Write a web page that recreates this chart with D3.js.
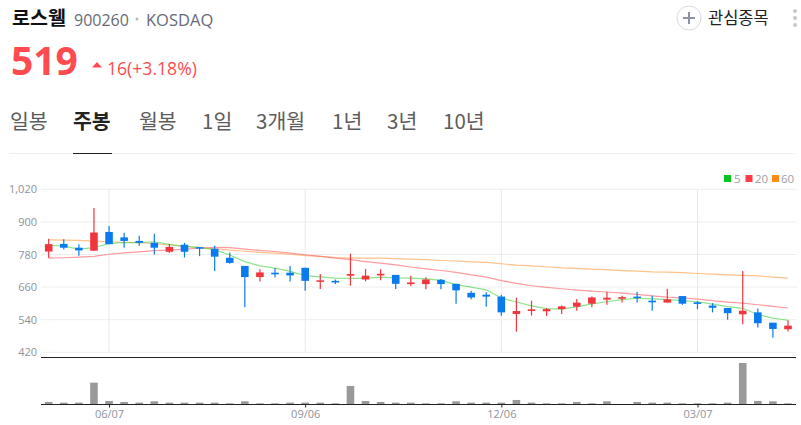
<!DOCTYPE html>
<html><head>
<meta charset="utf-8">
<script src="https://d3js.org/d3.v7.min.js"></script>
<style>
  html, body { margin: 0; padding: 0; background: #fff; overflow: hidden; }
  text { font-family: 'Noto Sans CJK KR', 'Noto Sans', sans-serif; }
  .num { font-family: 'Open Sans', 'Noto Sans', sans-serif; }
</style>
</head>
<body>
<script>
// weekly candles
const opens  = [791,819,805,794,863,843,830,823,790,816,807,801,768,738,697,713,713,731,680,683,702,688,703,705,671,671,687,672,639,632,625,561,572,571,579,588,599,614,617,625,610,603,627,604,592,583,560,567,529,505]
const closes = [818,805,795,861,818,830,823,805,808,790,802,772,749,697,714,707,703,683,685,677,708,702,709,672,677,688,671,648,622,625,567,572,578,579,589,603,622,621,623,620,604,615,599,598,584,564,573,527,506,518]
const highs  = [838,836,818,951,885,860,849,856,819,823,807,812,787,738,726,730,738,731,708,688,783,727,726,705,702,696,690,672,647,641,631,621,610,583,592,616,625,642,628,643,628,654,627,608,601,583,719,581,529,538]
const lows   = [767,798,775,794,818,805,812,780,786,769,774,719,746,586,681,696,681,647,653,671,665,681,685,653,664,652,652,599,615,588,555,496,555,554,561,573,586,595,603,603,573,603,595,579,567,540,523,511,474,497]
const ma5  = [814,811,800,805,821,824,824,827,817,810,805,798,778,754,738,730,718,702,698,693,692,692,697,694,693,690,685,669,660,650,620,605,591,581,579,587,598,606,614,619,617,614,610,606,597,588,582,559,546,538]
const ma20 = [767,768,770,773,781,786,790,794,796,800,803,806,805,800,795,791,785,779,773,767,761,754,748,742,734,727,721,714,705,697,684,674,665,659,654,649,645,642,638,633,628,623,620,616,610,605,601,595,589,583]
const ma60 = [834,833,832,829,827,825,824,820,815,810,806,801,796,792,788,785,781,776,773,769,767,767,767,765,763,761,758,756,753,751,746,741,738,735,731,729,726,724,721,719,716,715,713,710,708,705,703,701,697,693]
const volumes = [7,5,5,65,10,7,5,9,5,5,5,5,3,9,3,3,5,5,5,3,55,10,7,5,5,3,3,9,5,5,5,13,5,3,3,7,3,9,0,7,5,5,3,3,3,5,124,10,9,3]
const priceTicks = [420,540,660,780,900,1020]
const dateTickIdx = [4,17,30,43]
const dateTickLabels = ["06/07","09/06","12/06","03/07"]
const tabs = ["일봉","주봉","월봉","1일","3개월","1년","3년","10년"]
const tabX = [10,73,139,202,256,332,387,443]
const legendNames = ["5","20","60"]
const legendColors = ["#00c31e","#ff3b46","#ff8a14"]

const RED = "#f0353d", BLUE = "#0a7bef"
const left = 41, right = 797

const svg = d3.select("body").append("svg").attr("width", 801).attr("height", 425)

const x = d3.scaleLinear().domain([0, 49]).range([48.7, 788])
const y = d3.scaleLinear().domain([420, 1020]).range([352.3, 189.3])
const yVol = d3.scaleLinear().domain([0, 141]).range([404.3, 357.3])

// ---- header
svg.append("text").attr("x", 12).attr("y", 25).text("로스웰")
  .style("font-size", "19.5px").style("font-weight", "700").attr("fill", "#111")
svg.append("text").attr("x", 74).attr("y", 26).text("900260").attr("class", "num")
  .style("font-size", "16px").attr("fill", "#666b75")
svg.append("circle").attr("cx", 137).attr("cy", 19).attr("r", 1.5).attr("fill", "#b5b8bf")
svg.append("text").attr("x", 146).attr("y", 26).text("KOSDAQ").attr("class", "num")
  .style("font-size", "16.5px").attr("fill", "#666b75")
svg.append("text").attr("x", 11).attr("y", 75).text("519").attr("class", "num")
  .style("font-size", "39px").style("font-weight", "700").attr("fill", "#ff4b50")
svg.append("path").attr("d", "M92 67.5L97 62L102 67.5Z").attr("fill", "#ff4b50")
svg.append("text").attr("x", 107).attr("y", 75).text("16(+3.18%)").attr("class", "num")
  .style("font-size", "17.6px").attr("fill", "#ff4b50")

svg.append("circle").attr("cx", 689).attr("cy", 18).attr("r", 12).attr("fill", "#fff").attr("stroke", "#d8dbe2")
svg.append("path").attr("d", "M683 18H695M689 12V24").attr("stroke", "#8b93a3").attr("stroke-width", 2)
svg.append("text").attr("x", 708).attr("y", 24).text("관심종목").style("font-size", "16.5px").attr("fill", "#222")
svg.selectAll(".dot").data([11, 18, 25]).join("circle")
  .attr("cx", 795).attr("cy", d => d).attr("r", 2).attr("fill", "#c4c8d0")

// ---- tabs
svg.selectAll(".tab").data(tabs).join("text").attr("class", "tab")
  .attr("x", (d, i) => tabX[i]).attr("y", 128.5).text(d => d)
  .style("font-size", "20.5px").style("font-weight", d => d == "주봉" ? 700 : 400)
  .attr("fill", d => d == "주봉" ? "#222" : "#5c5c5c")
svg.append("line").attr("x1", 9).attr("x2", 795).attr("y1", 153.5).attr("y2", 153.5).attr("stroke", "#f0f0f0")
svg.append("line").attr("x1", 73).attr("x2", 112).attr("y1", 153.5).attr("y2", 153.5).attr("stroke", "#222")

// ---- legend
const legendPos = [[724,734],[745.5,755],[772,781]]
legendNames.forEach((name, i) => {
  svg.append("rect").attr("x", legendPos[i][0]).attr("y", 175).attr("width", 7).attr("height", 7).attr("fill", legendColors[i])
  svg.append("text").attr("x", legendPos[i][1]).attr("y", 183).text(name).attr("class", "num")
    .style("font-size", "11.5px").attr("fill", "#9a9fa9")
})

// ---- grid and axes
const yAxis = d3.axisLeft(y).tickValues(priceTicks).tickFormat(d3.format(",")).tickSize(0).tickPadding(4)
const yG = svg.append("g").attr("transform", `translate(${left},0)`).call(yAxis)
yG.select(".domain").remove()
yG.selectAll("text").attr("class", "num").style("font-size", "11px").attr("fill", "#8d929c")

svg.append("g").selectAll("line").data(priceTicks).join("line")
  .attr("x1", left).attr("x2", right).attr("y1", d => y(d)).attr("y2", d => y(d)).attr("stroke", "#eeeeee")
svg.append("g").selectAll("line").data(dateTickIdx).join("line")
  .attr("x1", d => x(d)).attr("x2", d => x(d)).attr("y1", 189.3).attr("y2", 352.3).attr("stroke", "#e9e9e9")

// ---- moving averages, under the candles
const line = d3.line().x((d, i) => x(i)).y(d => y(d))
const maLines = [[ma60, "#ff9a3c"], [ma20, "#ff5a62"], [ma5, "#3fd23f"]]
maLines.forEach(m => {
  svg.append("path").attr("d", line(m[0])).attr("fill", "none")
    .attr("stroke", m[1]).attr("stroke-width", 1.2).attr("opacity", 0.6)
})

// ---- candles
const idx = d3.range(opens.length)
const color = i => closes[i] >= opens[i] ? RED : BLUE
const candles = svg.append("g")
candles.selectAll(".wick").data(idx).join("line").attr("class", "wick")
  .attr("x1", d => x(d)).attr("x2", d => x(d))
  .attr("y1", d => y(highs[d])).attr("y2", d => y(lows[d]))
  .attr("stroke", color).attr("stroke-width", 1.2)
candles.selectAll(".body").data(idx).join("rect").attr("class", "body")
  .attr("x", d => x(d) - 3.8).attr("width", 7.6)
  .attr("y", d => y(Math.max(opens[d], closes[d])))
  .attr("height", d => Math.max(1.5, Math.abs(y(opens[d]) - y(closes[d]))))
  .attr("fill", color)

// ---- volume
svg.append("g").selectAll("rect").data(idx).join("rect")
  .attr("x", d => x(d) - 3.8).attr("width", 7.6)
  .attr("y", d => yVol(volumes[d])).attr("height", d => yVol(0) - yVol(volumes[d]))
  .attr("fill", "#999999")

svg.append("line").attr("x1", left).attr("x2", right - 1).attr("y1", 357.5).attr("y2", 357.5).attr("stroke", "#222")
svg.append("line").attr("x1", left).attr("x2", right - 1).attr("y1", 404.5).attr("y2", 404.5).attr("stroke", "#222")

const xAxis = d3.axisBottom(x).tickValues(dateTickIdx)
  .tickFormat((d, i) => dateTickLabels[i]).tickSize(3).tickPadding(3)
const xG = svg.append("g").attr("transform", "translate(0,404.5)").call(xAxis)
xG.select(".domain").remove()
xG.selectAll("line").attr("stroke", "#222")
xG.selectAll("text").attr("class", "num").style("font-size", "11px").attr("fill", "#8d929c")
</script>
</body></html>
